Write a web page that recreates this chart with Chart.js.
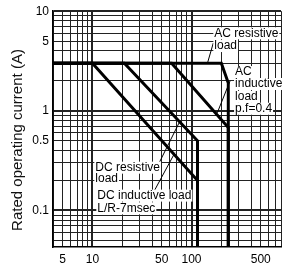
<!DOCTYPE html>
<html><head><meta charset="utf-8">
<script src="https://cdn.jsdelivr.net/npm/chart.js@4/dist/chart.umd.min.js"></script>
<style>html,body{margin:0;padding:0;background:#fff}</style>
</head><body>
<canvas id="c" width="286" height="265"></canvas>
<script>
// ---- axis ticks ----
const xTicks = [4,5,6,7,8,9,10,20,30,40,50,60,70,80,90,100,200,300,400,500,600,700,800];
const xTickLabels = [5,10,50,100,500];
const yTicks = [0.05,0.06,0.07,0.08,0.09,0.1,0.2,0.3,0.4,0.5,0.6,0.7,0.8,0.9,1,2,3,4,5,6,7,8,9,10];
const yTickLabels = [0.1,0.5,1,5,10];
const yTitle = "Rated operating current (A)";

// ---- series (voltage V, current A) ----
const acResistiveV = [4,200,235,235];
const acResistiveA = [3,3,1.9,0.043];
const acInductiveV = [4,63,235,235];
const acInductiveA = [3,3,0.68,0.043];
const dcResistiveV = [4,21,115,115];
const dcResistiveA = [3,3,0.5,0.043];
const dcInductiveV = [4,10,115,115];
const dcInductiveA = [3,3,0.2,0.043];

// ---- leader lines ----
const leadAcResV = [166,145];  const leadAcResA = [4.8,3.02];
const leadAcIndV = [245,182];  const leadAcIndA = [2.0,0.955];
const leadDcResV = [43,76];    const leadDcResA = [0.25,0.78];
const leadDcIndV = [41,68];    const leadDcIndA = [0.15,0.38];

// ---- notes ----
const noteText = ["AC resistive","load","AC","inductive","load","p.f=0.4","DC resistive","load","DC inductive load","L/R-7msec"];
const noteV    = [170,170,275,275,275,275,10.7,10.7,11.2,11.2];
const noteA    = [6.0,4.47,2.45,1.86,1.38,1.05,0.269,0.209,0.141,0.105];

const pts = (xs, ys) => xs.map((x,i)=>({x:x, y:ys[i]}));
const thick = (label, xs, ys) => ({label, data: pts(xs,ys), showLine:true, borderColor:'#000', borderWidth:3, pointRadius:0, fill:false, borderJoinStyle:'miter', tension:0});
const thin = (label, xs, ys) => ({label, data: pts(xs,ys), showLine:true, borderColor:'#000', borderWidth:1, pointRadius:0, fill:false, tension:0});

const isDecade = v => Math.abs(Math.log10(v) - Math.round(Math.log10(v))) < 1e-9;
const FONT = '"Liberation Sans", Arial, Helvetica, sans-serif';

const notesPlugin = {
  id:'notes',
  afterDatasetsDraw(chart){
    const {ctx, scales:{x,y}} = chart;
    ctx.save();
    ctx.font = '12px ' + FONT;
    ctx.textAlign = 'left';
    ctx.textBaseline = 'middle';
    noteText.forEach((t,i)=>{
      const px = x.getPixelForValue(noteV[i]);
      const py = y.getPixelForValue(noteA[i]);
      const w = ctx.measureText(t).width;
      ctx.fillStyle = '#fff';
      ctx.fillRect(px-1, py-6, w+2, 12);
      ctx.fillStyle = '#000';
      ctx.fillText(t, px, py);
    });
    ctx.restore();
  },
  afterDraw(chart){
    const {ctx} = chart;
    ctx.save();
    ctx.translate(22, 140);
    ctx.rotate(-Math.PI/2);
    ctx.font = '15px ' + FONT;
    ctx.fillStyle = '#111';
    ctx.textAlign = 'center';
    ctx.textBaseline = 'alphabetic';
    ctx.fillText(yTitle, 0, 0);
    ctx.restore();
  }
};

new Chart(document.getElementById('c'), {
  type:'scatter',
  data:{datasets:[
    thick('AC resistive load', acResistiveV, acResistiveA),
    thick('AC inductive load p.f=0.4', acInductiveV, acInductiveA),
    thick('DC resistive load', dcResistiveV, dcResistiveA),
    thick('DC inductive load L/R-7msec', dcInductiveV, dcInductiveA),
    thin('lead1', leadAcResV, leadAcResA),
    thin('lead2', leadAcIndV, leadAcIndA),
    thin('lead3', leadDcResV, leadDcResA),
    thin('lead4', leadDcIndV, leadDcIndA)
  ]},
  options:{
    responsive:false, animation:false, devicePixelRatio:1,
    layout:{padding:{top:10,right:3,left:0,bottom:0}},
    plugins:{legend:{display:false}, tooltip:{enabled:false}},
    scales:{
      x:{type:'logarithmic', min:4, max:800,
        afterBuildTicks: s => { s.ticks = xTicks.map(v=>({value:v})); },
        afterFit: s => { s.height = 18; },
        grid:{color:'#222', lineWidth: c => (c.tick && isDecade(c.tick.value)) ? 2 : 1, drawTicks:false},
        border:{color:'#000', width:1.5},
        ticks:{autoSkip:false, maxRotation:0, padding:5, color:'#000', font:{family:FONT, size:12},
          callback: v => xTickLabels.includes(v) ? String(v) : ''}
      },
      y:{type:'logarithmic', min:0.043, max:10,
        afterBuildTicks: s => { s.ticks = yTicks.map(v=>({value:v})); },
        afterFit: s => { s.width = 53; },
        grid:{color:'#222', lineWidth: c => (c.tick && isDecade(c.tick.value)) ? 2 : 1, drawTicks:false},
        border:{color:'#000', width:1.5},
        ticks:{autoSkip:false, padding:4, color:'#000', font:{family:FONT, size:12},
          callback: v => yTickLabels.includes(v) ? String(v) : ''}
      }
    }
  },
  plugins:[notesPlugin]
});
</script>
</body></html>
